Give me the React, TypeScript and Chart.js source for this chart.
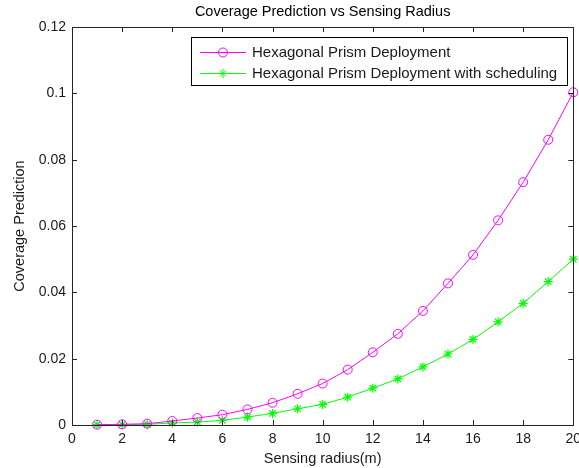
import React, { useEffect, useRef } from "react";
import { Chart, registerables } from "chart.js";

Chart.register(...registerables);

const radii = [1, 2, 3, 4, 5, 6, 7, 8, 9, 10, 11, 12, 13, 14, 15, 16, 17, 18, 19, 20];
const hexPrism = [0.0001, 0.0002, 0.0004, 0.0012, 0.0021, 0.0031, 0.0047, 0.0067, 0.0094, 0.0125, 0.0167, 0.0219, 0.0275, 0.0344, 0.0427, 0.0513, 0.0617, 0.0732, 0.086, 0.1003];
const hexPrismSched = [0.0001, 0.0001, 0.0002, 0.0006, 0.0009, 0.0014, 0.0024, 0.0035, 0.0049, 0.0062, 0.0084, 0.0111, 0.0139, 0.0175, 0.0214, 0.0258, 0.0311, 0.0367, 0.0432, 0.05];
const seriesLabels = ["Hexagonal Prism Deployment", "Hexagonal Prism Deployment with scheduling"];
const xTickValues = [0, 2, 4, 6, 8, 10, 12, 14, 16, 18, 20];
const xTickLabels = ["0", "2", "4", "6", "8", "10", "12", "14", "16", "18", "20"];
const yTickValues = [0, 0.02, 0.04, 0.06, 0.08, 0.1, 0.12];
const yTickLabels = ["0", "0.02", "0.04", "0.06", "0.08", "0.1", "0.12"];
const chartTitle = "Coverage Prediction vs Sensing Radius";
const xTitle = "Sensing radius(m)";
const yTitle = "Coverage Prediction";

const FONT = '"Liberation Sans", Arial, Helvetica, sans-serif';
const TEXT = "#1a1a1a";
const AXIS = "#262626";

function labelFor(values: number[], labels: string[], v: number) {
  const i = values.findIndex((t) => Math.abs(t - v) < 1e-9);
  return i >= 0 ? labels[i] : "";
}

function drawMarker(ctx: CanvasRenderingContext2D, style: string, x: number, y: number, r: number, color: string) {
  ctx.save();
  ctx.strokeStyle = color;
  ctx.lineWidth = 1;
  ctx.beginPath();
  if (style === "circle") {
    ctx.arc(x, y, r, 0, Math.PI * 2);
  } else {
    for (let k = 0; k < 4; k++) {
      const a = (k * Math.PI) / 4;
      ctx.moveTo(x - Math.cos(a) * r, y - Math.sin(a) * r);
      ctx.lineTo(x + Math.cos(a) * r, y + Math.sin(a) * r);
    }
  }
  ctx.stroke();
  ctx.restore();
}

const framePlugin = {
  id: "matlabFrame",
  afterDraw(chart: any) {
    const ctx: CanvasRenderingContext2D = chart.ctx;
    const ca = chart.chartArea;
    const xs = chart.scales.x;
    const ys = chart.scales.y;
    ctx.save();
    ctx.strokeStyle = AXIS;
    ctx.lineWidth = 1;
    ctx.strokeRect(Math.round(ca.left) + 0.5, Math.round(ca.top) + 0.5, Math.round(ca.right - ca.left), Math.round(ca.bottom - ca.top));
    const tl = 5;
    ctx.beginPath();
    xTickValues.forEach((v) => {
      const px = Math.round(xs.getPixelForValue(v)) + 0.5;
      ctx.moveTo(px, ca.bottom);
      ctx.lineTo(px, ca.bottom - tl);
      ctx.moveTo(px, ca.top);
      ctx.lineTo(px, ca.top + tl);
    });
    yTickValues.forEach((v) => {
      const py = Math.round(ys.getPixelForValue(v)) + 0.5;
      ctx.moveTo(ca.left, py);
      ctx.lineTo(ca.left + tl, py);
      ctx.moveTo(ca.right, py);
      ctx.lineTo(ca.right - tl, py);
    });
    ctx.stroke();

    ctx.font = `15px ${FONT}`;
    const dsets = chart.data.datasets;
    const tw = Math.max(...dsets.map((d: any) => ctx.measureText(d.label).width));
    const w = Math.round(61 + tw + 10);
    const right = Math.round(ca.right - 6);
    const left = right - w;
    const top = Math.round(ca.top + 10);
    const h = 48;
    ctx.fillStyle = "#ffffff";
    ctx.fillRect(left, top, w, h);
    ctx.strokeStyle = "#000000";
    ctx.strokeRect(left + 0.5, top + 0.5, w, h);
    dsets.forEach((d: any, i: number) => {
      const y = top + 14.5 + i * 21.5;
      ctx.strokeStyle = d.borderColor;
      ctx.lineWidth = 1;
      ctx.beginPath();
      ctx.moveTo(left + 9, Math.round(y) + 0.5);
      ctx.lineTo(left + 55, Math.round(y) + 0.5);
      ctx.stroke();
      drawMarker(ctx, d.pointStyle, left + 32, Math.round(y) + 0.5, d.pointRadius, d.borderColor);
      ctx.fillStyle = TEXT;
      ctx.textAlign = "left";
      ctx.textBaseline = "middle";
      ctx.fillText(d.label, left + 61, y + 1);
    });
    ctx.restore();
  },
};

export default function App() {
  const ref = useRef<HTMLCanvasElement | null>(null);

  useEffect(() => {
    if (!ref.current) return;
    const chart = new Chart(ref.current, {
      type: "line",
      data: {
        datasets: [
          {
            label: seriesLabels[0],
            data: radii.map((r, i) => ({ x: r, y: hexPrism[i] })),
            borderColor: "#ff00ff",
            backgroundColor: "rgba(0,0,0,0)",
            pointStyle: "circle",
            pointRadius: 4.5,
            pointBorderWidth: 1,
            pointBorderColor: "#ff00ff",
            pointBackgroundColor: "rgba(0,0,0,0)",
            borderWidth: 1,
            tension: 0,
            clip: false as any,
          },
          {
            label: seriesLabels[1],
            data: radii.map((r, i) => ({ x: r, y: hexPrismSched[i] })),
            borderColor: "#00ff00",
            backgroundColor: "rgba(0,0,0,0)",
            pointStyle: "star",
            pointRadius: 4.5,
            pointBorderWidth: 1.2,
            pointBorderColor: "#00ff00",
            pointBackgroundColor: "rgba(0,0,0,0)",
            borderWidth: 1,
            tension: 0,
            clip: false as any,
          },
        ],
      },
      options: {
        responsive: false,
        animation: false,
        events: [],
        layout: { padding: { left: 0, right: 5, top: 0, bottom: 0 } },
        plugins: {
          legend: { display: false },
          tooltip: { enabled: false },
          title: {
            display: true,
            text: chartTitle,
            fullSize: false,
            color: "#000",
            font: { family: FONT, size: 14.5, weight: "normal" as any },
            padding: { top: 3, bottom: 6.6 },
          },
        },
        scales: {
          x: {
            type: "linear",
            min: 0,
            max: 20,
            afterBuildTicks: (s: any) => {
              s.ticks = xTickValues.map((v) => ({ value: v }));
            },
            ticks: {
              autoSkip: false,
              maxRotation: 0,
              padding: 6,
              color: TEXT,
              font: { family: FONT, size: 14 },
              callback: (v: any) => labelFor(xTickValues, xTickLabels, Number(v)),
            },
            grid: { display: false, drawTicks: false },
            border: { display: false },
            title: {
              display: true,
              text: xTitle,
              color: TEXT,
              font: { family: FONT, size: 14.5 },
              padding: { top: 0, bottom: 0.8 },
            },
            afterFit: (s: any) => {
              s.height = 43;
              s.paddingLeft = 0;
              s.paddingRight = 0;
            },
          },
          y: {
            type: "linear",
            min: 0,
            max: 0.12,
            afterBuildTicks: (s: any) => {
              s.ticks = yTickValues.map((v) => ({ value: v }));
            },
            ticks: {
              autoSkip: false,
              padding: 6,
              color: TEXT,
              font: { family: FONT, size: 14 },
              callback: (v: any) => labelFor(yTickValues, yTickLabels, Number(v)),
            },
            grid: { display: false, drawTicks: false },
            border: { display: false },
            title: {
              display: true,
              text: yTitle,
              color: TEXT,
              font: { family: FONT, size: 14.5 },
              padding: { top: 11, bottom: 0 },
            },
            afterFit: (s: any) => {
              s.width = 72;
              s.paddingTop = 0;
              s.paddingBottom = 0;
            },
          },
        },
      },
      plugins: [framePlugin],
    });
    return () => chart.destroy();
  }, []);

  return (
    <div style={{ position: "absolute", left: 0, top: 0, width: 579, height: 468, background: "#fff" }}>
      <canvas ref={ref} width={579} height={468} style={{ display: "block" }} />
    </div>
  );
}
